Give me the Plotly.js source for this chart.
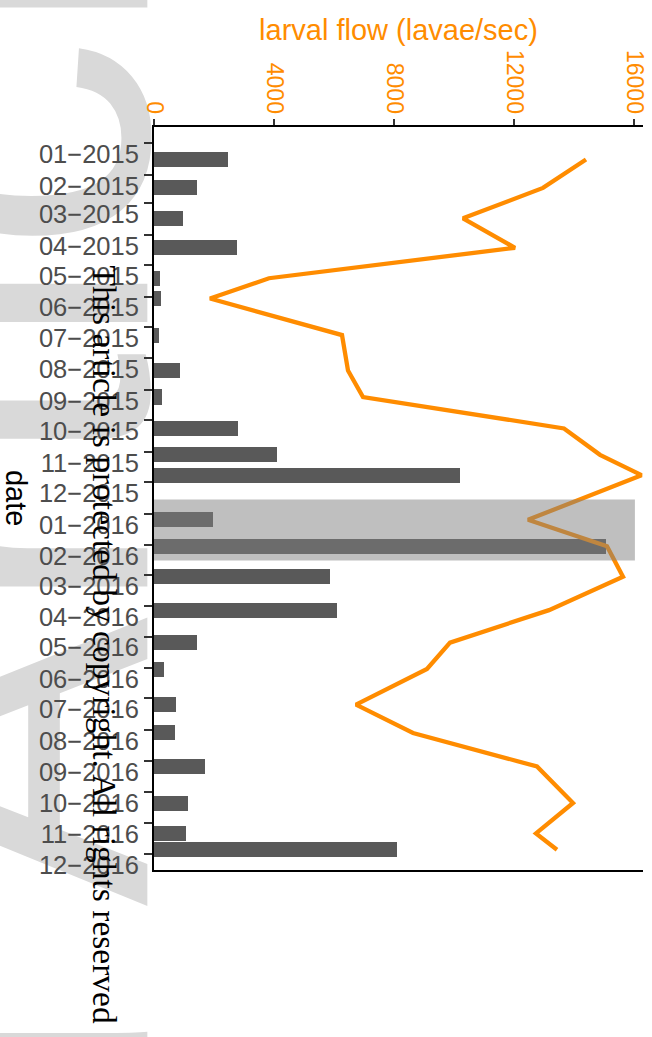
<!DOCTYPE html>
<html>
<head>
<meta charset="utf-8">
<script src="https://cdn.plot.ly/plotly-3.0.1.min.js"></script>
<style>html,body{margin:0;padding:0;background:#fff;}#chart{width:652px;height:1037px;}</style>
</head>
<body>
<div id="chart"></div>
<script>
// sampling dates (one per survey)
const sampleDates = ['2015-01-17','2015-02-14','2015-03-16','2015-04-14','2015-05-14','2015-06-03',
  '2015-07-09','2015-08-13','2015-09-08','2015-10-09','2015-11-04','2015-11-24',
  '2016-01-07','2016-02-02','2016-03-03','2016-04-05','2016-05-07','2016-06-02',
  '2016-07-07','2016-08-04','2016-09-06','2016-10-12','2016-11-11','2016-11-27'];
// bar series (dark grey)
const barValues = [2467,1422,967,2756,200,233,156,867,267,2789,4089,10200,
  1967,15067,5867,6100,1422,333,722,700,1700,1122,1056,8089];
// larval flow line (orange)
const flowValues = [14400,12967,10300,12033,3833,1867,6267,6467,6967,13667,14867,16250,
  12467,15100,15633,13167,9867,9100,6733,8633,12767,13967,12733,13433];
// tick positions / labels
const monthTicks = ['2015-01-01','2015-02-01','2015-03-01','2015-04-01','2015-05-01','2015-06-01',
  '2015-07-01','2015-08-01','2015-09-01','2015-10-01','2015-11-01','2015-12-01',
  '2016-01-01','2016-02-01','2016-03-01','2016-04-01','2016-05-01','2016-06-01',
  '2016-07-01','2016-08-01','2016-09-01','2016-10-01','2016-11-01','2016-12-01'];
const monthLabels = ['01\u22122015','02\u22122015','03\u22122015','04\u22122015','05\u22122015','06\u22122015',
  '07\u22122015','08\u22122015','09\u22122015','10\u22122015','11\u22122015','12\u22122015',
  '01\u22122016','02\u22122016','03\u22122016','04\u22122016','05\u22122016','06\u22122016',
  '07\u22122016','08\u22122016','09\u22122016','10\u22122016','11\u22122016','12\u22122016'];
const flowTicks = [0,4000,8000,12000,16000];
const bandStart = '2015-12-18', bandEnd = '2016-02-16', bandTop = 16030;

const FONT = 'Liberation Sans, Arial, Helvetica, sans-serif';
const ORANGE = '#FF8C00';
const DAY = 86400000;

const traces = [
  {type:'bar', orientation:'h', x: barValues, y: sampleDates,
   width: sampleDates.map(()=>14.8*DAY),
   marker:{color:'#595959', line:{width:0}}, hoverinfo:'x+y'},
  {type:'scatter', mode:'lines', x: flowValues, y: sampleDates,
   line:{color:ORANGE, width:4.3}, hoverinfo:'x+y'}
];

const layout = {
  width:652, height:1037,
  margin:{l:154, r:9, t:127, b:167, pad:0},
  paper_bgcolor:'#ffffff', plot_bgcolor:'#ffffff',
  showlegend:false, bargap:0,
  font:{family:FONT},
  xaxis:{
    side:'top', range:[0,16300], tickmode:'array', tickvals:flowTicks,
    ticktext: flowTicks.map(String), tickangle:90,
    ticks:'outside', ticklen:6, tickwidth:2, tickcolor:'#333333',
    tickfont:{size:23, color:ORANGE, family:FONT},
    ticklabelstandoff:-3,
    showline:true, linecolor:'#000000', linewidth:2, mirror:true,
    showgrid:false, zeroline:false,
    title:{text:'larval flow (lavae/sec)', font:{size:29, color:ORANGE, family:FONT}, standoff:1}
  },
  yaxis:{
    type:'date', range:['2016-12-17','2014-12-16'], tickmode:'array',
    tickvals:monthTicks, ticktext:monthLabels,
    ticks:'outside', ticklen:8, tickwidth:2, tickcolor:'#333333',
    tickfont:{size:25.5, color:'#4d4d4d', family:FONT},
    ticklabelshift:-11,
    showline:true, linecolor:'#000000', linewidth:2, mirror:false,
    showgrid:false, zeroline:false
  },
  shapes:[
    {type:'rect', layer:'above', xref:'x', yref:'y', x0:0, x1:bandTop, y0:bandStart, y1:bandEnd,
     fillcolor:'rgba(127,127,127,0.5)', line:{width:0}},
    {type:'rect', layer:'below', xref:'paper', yref:'paper', x0:-0.411, x1:-0.395, y0:-0.525, y1:-0.519,
     fillcolor:'rgba(0,0,0,0)', line:{width:0},
     label:{text:'Accepted Article', textangle:-90, textposition:'middle center',
            font:{size:435, color:'#d9d9d9', family:FONT}}}
  ],
  annotations:[
    {text:'date', xref:'paper', yref:'paper', x:-0.2822, y:0.5007, xanchor:'center', yanchor:'middle',
     textangle:90, showarrow:false, font:{size:29, color:'#000000', family:FONT}},
    {text:'This article is protected by copyright. All rights reserved', xref:'paper', yref:'paper',
     x:-0.1022, y:0.3035, xanchor:'center', yanchor:'middle', textangle:90, showarrow:false,
     font:{size:33.5, color:'#000000', family:'Liberation Serif, Times New Roman, serif'}}
  ]
};

Plotly.newPlot('chart', traces, layout, {displayModeBar:false, staticPlot:true});
</script>
</body>
</html>
